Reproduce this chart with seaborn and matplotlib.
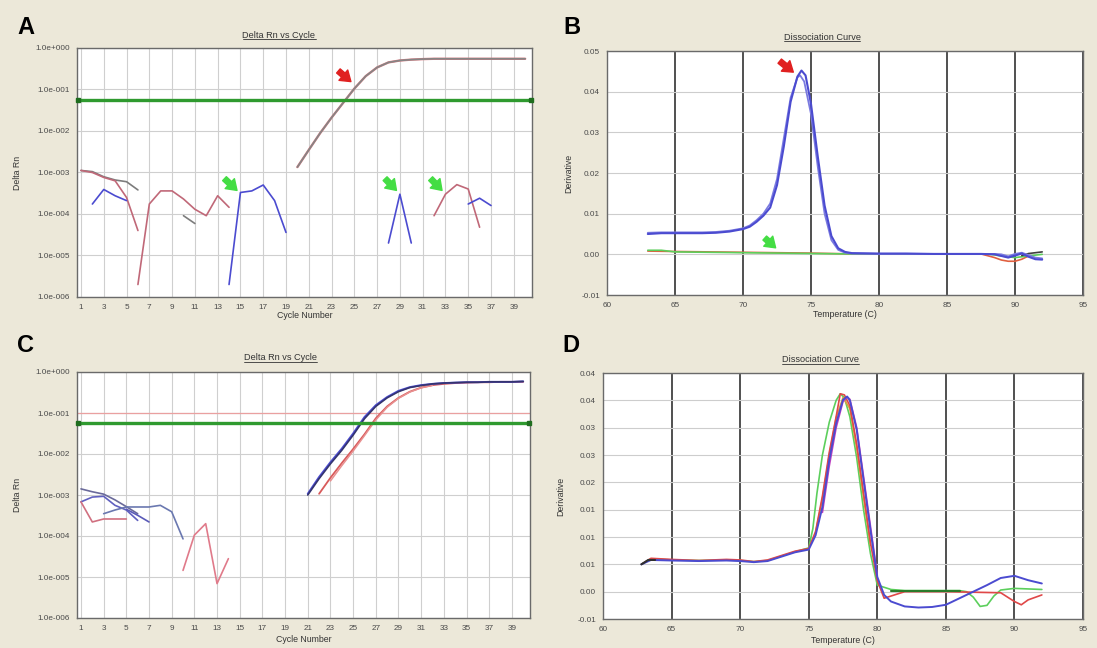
import numpy as np
import matplotlib
matplotlib.use("Agg")
import matplotlib.pyplot as plt
import seaborn as sns
from matplotlib.lines import Line2D

sns.set_style("white")
plt.rcParams['font.family'] = ['Liberation Sans', 'DejaVu Sans']

BG = "#ECE8D9"
BLUE = "#4b4bd0"
NAVY = "#34346e"
RED = "#d85a5a"
MAUVE = "#c06878"
GREEN = "#5ccf5c"
GREY = "#7c7c7c"
THR = "#2f9a2f"

# ---------------- Panel A (amplification, log scale) ----------------
a_amp_cycles = list(range(20, 41))
a_amp_vals = [1.35e-3, 3.5e-3, 8.9e-3, 0.021, 0.047, 0.105, 0.21, 0.34, 0.45, 0.50,
              0.525, 0.54, 0.55, 0.55, 0.55, 0.55, 0.55, 0.55, 0.55, 0.55, 0.55]
a_threshold = 0.0555

a_grey1_c = [1, 2, 3, 4, 5, 6]
a_grey1_v = [1.12e-3, 1.05e-3, 7.9e-4, 6.6e-4, 6.0e-4, 3.8e-4]
a_mauve_c = [1, 2, 3, 4, 5, 6]
a_mauve_v = [1.12e-3, 1.0e-3, 7.6e-4, 6.3e-4, 2.5e-4, 4.0e-5]
a_blue1_c = [2, 3, 4, 5]
a_blue1_v = [1.74e-4, 3.9e-4, 2.75e-4, 2.1e-4]
a_red1_c = [6, 7, 8, 9, 10, 11, 12, 13, 14]
a_red1_v = [2.0e-6, 1.74e-4, 3.6e-4, 3.6e-4, 2.3e-4, 1.3e-4, 9.1e-5, 2.75e-4, 1.45e-4]
a_grey2_c = [10, 11]
a_grey2_v = [9.1e-5, 5.9e-5]
a_blue2_c = [14, 15, 16, 17, 18, 19]
a_blue2_v = [2.0e-6, 3.3e-4, 3.6e-4, 5.0e-4, 2.1e-4, 3.6e-5]
a_blue3_c = [28, 29, 30]
a_blue3_v = [2.0e-5, 3.0e-4, 2.0e-5]
a_red2_c = [32, 33, 34, 35, 36]
a_red2_v = [9.1e-5, 3.0e-4, 5.1e-4, 4.0e-4, 4.8e-5]
a_blue4_c = [35, 36, 37]
a_blue4_v = [1.74e-4, 2.4e-4, 1.6e-4]

# ---------------- Panel C (amplification, log scale) ----------------
c_blue_c = list(range(21, 41))
c_blue_v = [1.07e-3, 2.75e-3, 6.3e-3, 0.0135, 0.0316, 0.0794, 0.155, 0.245, 0.347, 0.427,
            0.479, 0.513, 0.537, 0.550, 0.562, 0.562, 0.575, 0.575, 0.575, 0.589]
c_navy_c = list(range(21, 41))
c_navy_v = [1.0e-3, 2.5e-3, 5.75e-3, 0.0123, 0.0288, 0.0724, 0.145, 0.234, 0.331, 0.417,
            0.468, 0.513, 0.537, 0.550, 0.562, 0.562, 0.575, 0.575, 0.575, 0.589]
c_red_c = list(range(22, 41))
c_red_v = [1.07e-3, 2.63e-3, 6.0e-3, 0.0132, 0.0302, 0.0741, 0.145, 0.234, 0.331, 0.417,
           0.479, 0.513, 0.537, 0.550, 0.562, 0.562, 0.575, 0.575, 0.575]
c_pink_c = list(range(23, 33))
c_pink_v = [2.2e-3, 5.2e-3, 0.0118, 0.028, 0.068, 0.138, 0.228, 0.325, 0.41, 0.47]
c_threshold = 0.058
c_threshold2 = 0.1

c_l1_c = [1, 2, 3, 4, 5, 6]
c_l1_v = [1.41e-3, 1.2e-3, 1.05e-3, 7.6e-4, 5.2e-4, 3.5e-4]
c_l2_c = [1, 2, 3, 4, 5, 6]
c_l2_v = [6.8e-4, 8.9e-4, 9.3e-4, 5.6e-4, 4.3e-4, 2.4e-4]
c_l3_c = [1, 2, 3, 4, 5]
c_l3_v = [6.8e-4, 2.2e-4, 2.6e-4, 2.6e-4, 2.6e-4]
c_l4_c = [3, 4, 5, 6, 7, 8, 9, 10]
c_l4_v = [3.5e-4, 4.3e-4, 5.1e-4, 5.1e-4, 5.1e-4, 5.6e-4, 3.9e-4, 8.5e-5]
c_l5_c = [5, 6, 7]
c_l5_v = [4.5e-4, 3.2e-4, 2.2e-4]
c_zig_c = [10, 11, 12, 13, 14]
c_zig_v = [1.45e-5, 1.05e-4, 2.0e-4, 6.9e-6, 2.8e-5]

# ---------------- Panel B (dissociation) ----------------
b_blue1_t = [63, 64, 65, 66, 67, 68, 69, 70, 70.5, 71, 71.5, 72, 72.5, 73, 73.5, 74, 74.3,
             74.6, 75, 75.5, 76, 76.5, 77, 77.5, 78, 80, 82, 84, 86, 87.5, 88.5, 89, 89.5,
             90, 90.5, 91, 91.5, 92]
b_blue1_v = [0.0050, 0.0052, 0.0052, 0.0052, 0.0052, 0.0053, 0.0056, 0.0062, 0.0068, 0.0080,
             0.0095, 0.0115, 0.0170, 0.0265, 0.0375, 0.0437, 0.0452, 0.0440, 0.0370, 0.0240,
             0.0120, 0.0045, 0.0015, 0.0006, 0.0003, 0.0002, 0.0002, 0.0001, 0.0001, 0.0001,
             0.0000, -0.0004, -0.0008, -0.0003, 0.0002, -0.0006, -0.0012, -0.0013]
b_blue2_t = [63, 64, 65, 66, 67, 68, 69, 70, 70.5, 71, 71.5, 72, 72.5, 73, 73.5, 74, 74.2,
             74.5, 75, 75.5, 76, 76.5, 77, 77.5, 78, 80, 82, 84, 86, 87.5, 88.5, 89, 89.5,
             90, 90.5, 91, 91.5, 92]
b_blue2_v = [0.0053, 0.0054, 0.0054, 0.0054, 0.0054, 0.0055, 0.0058, 0.0064, 0.0071, 0.0084,
             0.0100, 0.0125, 0.0185, 0.0285, 0.0385, 0.0435, 0.0440, 0.0425, 0.0345, 0.0215,
             0.0100, 0.0035, 0.0011, 0.0004, 0.0002, 0.0001, 0.0001, 0.0001, 0.0001, 0.0001,
             0.0001, 0.0000, -0.0005, 0.0001, 0.0004, -0.0002, -0.0008, -0.0010]
b_red_t = [63, 65, 70, 75, 78, 80, 85, 87.5, 88.5, 89, 89.5, 90, 90.5, 91]
b_red_v = [0.0008, 0.0007, 0.0005, 0.0003, 0.0001, 0.0001, 0.0001, 0.0001, -0.0008,
           -0.0014, -0.0017, -0.0017, -0.0012, -0.0004]
b_green_t = [63, 64, 65, 70, 75, 78, 80, 85, 88, 89, 90, 91, 92]
b_green_v = [0.0010, 0.0010, 0.0006, 0.0004, 0.0002, 0.0001, 0.0001, 0.0001, 0.0001,
             -0.0004, -0.0008, -0.0004, 0.0000]
b_dark_t = [90.5, 91, 91.5, 92]
b_dark_v = [-0.0003, 0.0002, 0.0004, 0.0006]

# ---------------- Panel D (dissociation) ----------------
d_blue_t = [62.8, 63.5, 65, 67, 69, 70, 71, 72, 73, 74, 75, 75.5, 76, 76.5, 77, 77.5, 77.8,
            78, 78.5, 79, 79.5, 80, 80.5, 81, 82, 83, 84, 85, 86, 87, 88, 89, 90, 91, 92]
d_blue_v = [0.0050, 0.0058, 0.0057, 0.0056, 0.0057, 0.0056, 0.0054, 0.0056, 0.0064, 0.0072,
            0.0077, 0.0103, 0.0155, 0.0241, 0.0308, 0.0351, 0.0357, 0.0350, 0.0296, 0.0204,
            0.0113, 0.0027, -0.0006, -0.0018, -0.0027, -0.0029, -0.0028, -0.0024, -0.0012,
            0.0000, 0.0012, 0.0025, 0.0029, 0.0021, 0.0015]
d_green_t = [62.8, 63.5, 65, 67, 69, 70, 71, 72, 73, 74, 75, 75.3, 75.6, 76, 76.5, 77, 77.3,
             77.6, 78, 78.5, 79, 79.5, 80, 80.5, 81, 82, 84, 86, 86.5, 87, 87.5, 88, 88.5,
             89, 90, 91, 92]
d_green_v = [0.0050, 0.0060, 0.0058, 0.0057, 0.0058, 0.0057, 0.0055, 0.0057, 0.0065, 0.0073,
             0.0080, 0.0115, 0.0180, 0.0250, 0.0310, 0.0350, 0.0362, 0.0355, 0.0320, 0.0245,
             0.0150, 0.0070, 0.0012, 0.0008, 0.0004, 0.0002, 0.0002, 0.0002, 0.0000, -0.0010,
             -0.0027, -0.0025, -0.0008, 0.0003, 0.0006, 0.0005, 0.0004]
d_red_t = [62.8, 63.5, 65, 67, 69, 70, 71, 72, 73, 74, 75, 75.5, 76, 76.5, 77, 77.3, 77.6,
           78, 78.5, 79, 79.5, 80, 80.5, 81, 82, 85, 89, 89.5, 90, 90.5, 91, 92]
d_red_v = [0.0050, 0.0061, 0.0059, 0.0057, 0.0059, 0.0058, 0.0055, 0.0058, 0.0066, 0.0074,
           0.0079, 0.0110, 0.0175, 0.0255, 0.0320, 0.0362, 0.0360, 0.0340, 0.0270, 0.0180,
           0.0090, 0.0020, -0.0012, -0.0008, 0.0000, 0.0000, -0.0002, -0.0010, -0.0018,
           -0.0024, -0.0015, -0.0006]
d_magenta_t = [76, 76.5, 77, 77.5, 77.8, 78, 78.5, 79, 79.5, 80]
d_magenta_v = [0.0145, 0.0230, 0.0300, 0.0348, 0.0356, 0.0352, 0.0300, 0.0210, 0.0120, 0.0030]
d_orange_t = [75.5, 76, 76.5, 77, 77.5, 78, 78.5, 79, 79.5]
d_orange_v = [0.0108, 0.0170, 0.0250, 0.0318, 0.0355, 0.0335, 0.0262, 0.0172, 0.0085]
d_dkgreen_t = [81, 82, 83, 84, 85, 86]
d_dkgreen_v = [0.0001, 0.0001, 0.0001, 0.0001, 0.0001, 0.0001]
d_black_t = [62.8, 63.3, 63.8]
d_black_v = [0.0050, 0.0058, 0.0058]

# tick labels
log_ticks = [1e0, 1e-1, 1e-2, 1e-3, 1e-4, 1e-5, 1e-6]
log_labels = ["1.0e+000", "1.0e-001", "1.0e-002", "1.0e-003", "1.0e-004", "1.0e-005", "1.0e-006"]
cycle_ticks = list(range(1, 40, 2))
temp_ticks = [60, 65, 70, 75, 80, 85, 90, 95]
b_yticks = [-0.01, 0.0, 0.01, 0.02, 0.03, 0.04, 0.05]
b_ylabels = ["-0.01", "0.00", "0.01", "0.02", "0.03", "0.04", "0.05"]
d_yticks = [-0.005, 0.0, 0.005, 0.01, 0.015, 0.02, 0.025, 0.03, 0.035, 0.04]
d_ylabels = ["-0.01", "0.00", "0.01", "0.01", "0.01", "0.02", "0.03", "0.03", "0.04", "0.04"]

# ---------------- figure ----------------
W, H = 1097, 648
fig = plt.figure(figsize=(W / 100, H / 100), dpi=100, facecolor=BG)


def px_axes(l, t, r, b):
    return fig.add_axes([l / W, 1 - b / H, (r - l) / W, (b - t) / H])


axA = px_axes(77, 48, 532, 297)
axB = px_axes(607, 51, 1083, 295)
axC = px_axes(77, 372, 530, 618)
axD = px_axes(603, 373, 1083, 619)

TICK_FS = 5.9
LAB_FS = 6.3


def style_common(ax):
    ax.set_facecolor("white")
    for s in ax.spines.values():
        s.set_color("#6a6a6a")
        s.set_linewidth(1.0)
        s.set_visible(True)
    ax.tick_params(axis="both", which="major", length=2, width=0.6, color="#666666",
                   labelsize=TICK_FS, labelcolor="#4a4a4a", pad=3, direction="out")
    ax.tick_params(which="minor", length=0)


def line(ax, x, y, color, lw=1.2, z=3, alpha=1.0):
    sns.lineplot(x=x, y=y, ax=ax, color=color, linewidth=lw, estimator=None,
                 sort=False, legend=False, zorder=z, alpha=alpha)


def arrow(ax, tail, head, color):
    ax.annotate("", xy=head, xytext=tail, zorder=6,
                arrowprops=dict(arrowstyle="simple,head_length=0.55,head_width=0.75,tail_width=0.3",
                                color=color, mutation_scale=13, shrinkA=0, shrinkB=0))


def amp_axes(ax, thr):
    ax.set_yscale("log")
    ax.set_xlim(0.65, 40.6)
    ax.set_ylim(1e-6, 1e0)
    ax.set_yticks(log_ticks)
    ax.set_yticklabels(log_labels)
    ax.set_xticks(cycle_ticks)
    ax.set_xticklabels([str(c) for c in cycle_ticks])
    ax.yaxis.set_minor_locator(matplotlib.ticker.NullLocator())
    style_common(ax)
    ax.grid(True, which="major", color="#cfcfcf", linewidth=0.8)
    ax.set_axisbelow(True)
    ax.axhline(thr, color=THR, linewidth=2.4, zorder=4)
    x0, x1 = ax.get_xlim()
    ax.plot([x0 + 0.08, x1 - 0.08], [thr, thr], linestyle="none", marker="s", ms=3,
            color="#1f6e1f", zorder=5, clip_on=False)
    ax.set_xlabel("Cycle Number", fontsize=LAB_FS, color="#333333")
    ax.set_ylabel("Delta Rn", fontsize=LAB_FS, color="#333333")
    ax.yaxis.set_label_coords(-0.121, 0.5)


def diss_axes(ax, yticks, ylabels):
    ax.set_xlim(60, 95)
    ax.set_ylim(yticks[0], yticks[-1])
    ax.set_xticks(temp_ticks)
    ax.set_xticklabels([str(t) for t in temp_ticks])
    ax.set_yticks(yticks)
    ax.set_yticklabels(ylabels)
    style_common(ax)
    ax.grid(True, axis="y", color="#cdcdcd", linewidth=0.8)
    ax.grid(True, axis="x", color="#505050", linewidth=1.4)
    ax.set_axisbelow(True)
    ax.set_xlabel("Temperature (C)", fontsize=LAB_FS, color="#333333")
    ax.set_ylabel("Derivative", fontsize=LAB_FS, color="#333333")


# ----- A -----
amp_axes(axA, a_threshold)
line(axA, a_amp_cycles, a_amp_vals, "#d87a80", lw=1.7)
line(axA, a_amp_cycles, a_amp_vals, "#858585", lw=1.2)
line(axA, a_grey1_c, a_grey1_v, GREY)
line(axA, a_mauve_c, a_mauve_v, MAUVE)
line(axA, a_blue1_c, a_blue1_v, BLUE)
line(axA, a_red1_c, a_red1_v, MAUVE)
line(axA, a_grey2_c, a_grey2_v, GREY)
line(axA, a_blue2_c, a_blue2_v, BLUE)
line(axA, a_blue3_c, a_blue3_v, BLUE)
line(axA, a_red2_c, a_red2_v, MAUVE)
line(axA, a_blue4_c, a_blue4_v, BLUE)
arrow(axA, (23.6, 0.28), (24.7, 0.155), "#e02020")
arrow(axA, (13.6, 7.1e-4), (14.7, 3.7e-4), "#44dd44")
arrow(axA, (27.7, 7.1e-4), (28.7, 3.7e-4), "#44dd44")
arrow(axA, (31.7, 7.1e-4), (32.7, 3.7e-4), "#44dd44")
axA.xaxis.set_label_coords(0.5, -0.056)

# ----- C -----
amp_axes(axC, c_threshold)
axC.axhline(c_threshold2, color="#eaa0a0", linewidth=0.9, zorder=2)
line(axC, c_red_c, c_red_v, RED, lw=1.3)
line(axC, c_pink_c, c_pink_v, "#e89090", lw=1.1)
line(axC, c_blue_c, c_blue_v, BLUE, lw=1.4)
line(axC, c_navy_c, c_navy_v, NAVY, lw=1.2)
line(axC, c_l1_c, c_l1_v, "#6a6a9a")
line(axC, c_l2_c, c_l2_v, "#6060c0")
line(axC, c_l3_c, c_l3_v, "#d07080")
line(axC, c_l4_c, c_l4_v, "#6a78b0")
line(axC, c_l5_c, c_l5_v, "#5a5ab8")
line(axC, c_zig_c, c_zig_v, "#e07a8a")
axC.xaxis.set_label_coords(0.5, -0.069)

# ----- B -----
diss_axes(axB, b_yticks, b_ylabels)
line(axB, b_red_t, b_red_v, "#e06040")
line(axB, b_green_t, b_green_v, GREEN)
line(axB, b_dark_t, b_dark_v, "#404040")
line(axB, b_blue2_t, b_blue2_v, "#7a7ae0", lw=1.3)
line(axB, b_blue1_t, b_blue1_v, BLUE, lw=1.5)
arrow(axB, (72.7, 0.0475), (73.7, 0.0448), "#e02020")
arrow(axB, (71.6, 0.0040), (72.4, 0.0016), "#44dd44")
axB.yaxis.set_label_coords(-0.071, 0.5)
axB.xaxis.set_label_coords(0.5, -0.061)

# ----- D -----
diss_axes(axD, d_yticks, d_ylabels)
line(axD, d_green_t, d_green_v, GREEN)
line(axD, d_orange_t, d_orange_v, "#d8a040")
line(axD, d_red_t, d_red_v, "#e04848")
line(axD, d_magenta_t, d_magenta_v, "#c040c0")
line(axD, d_blue_t, d_blue_v, BLUE, lw=1.4)
line(axD, d_dkgreen_t, d_dkgreen_v, "#2a7a2a", lw=1.5)
line(axD, d_black_t, d_black_v, "#303030", lw=1.5)
axD.yaxis.set_label_coords(-0.079, 0.5)
axD.xaxis.set_label_coords(0.5, -0.069)

# titles and panel letters
titles = [(279, 35, "Delta Rn vs Cycle"), (822, 37, "Dissociation Curve"),
          (280, 358, "Delta Rn vs Cycle"), (820, 360, "Dissociation Curve")]
title_objs = []
for x, y, s in titles:
    title_objs.append(fig.text(x / W, 1 - y / H, s, ha="center", va="center",
                               fontsize=6.6, color="#333333"))
for x, y, s in [(26, 27, "A"), (572, 27, "B"), (26, 346, "C"), (571, 346, "D")]:
    fig.text(x / W, 1 - y / H, s, ha="center", va="center", fontsize=17,
             fontweight="bold", color="black", family=["Liberation Sans", "DejaVu Sans"])

fig.canvas.draw()
renderer = fig.canvas.get_renderer()
for t in title_objs:
    bb = t.get_window_extent(renderer)
    yline = (bb.y0 + 0.5) / H
    fig.add_artist(Line2D([bb.x0 / W, bb.x1 / W], [yline, yline], transform=fig.transFigure,
                          color="#333333", linewidth=0.6))

fig.savefig("out.png", dpi=100, facecolor=BG)
